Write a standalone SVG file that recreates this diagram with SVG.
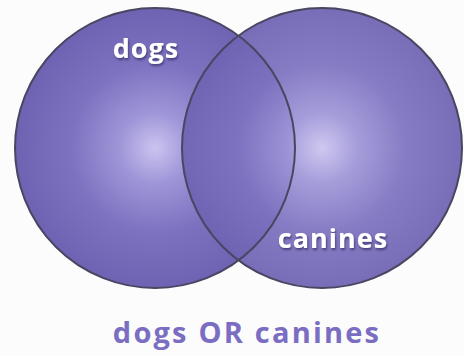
<svg xmlns="http://www.w3.org/2000/svg" width="464" height="356" viewBox="0 0 464 356">
  <defs>
    <radialGradient id="glow" cx="0.5" cy="0.5" r="0.5">
      <stop offset="0" stop-color="#cbc4ef"/>
      <stop offset="0.25" stop-color="#9f96d8"/>
      <stop offset="0.6" stop-color="#7d72c0"/>
      <stop offset="1" stop-color="#6d63b2"/>
    </radialGradient>
    <filter id="shadow" x="-20%" y="-30%" width="140%" height="160%">
      <feDropShadow dx="1" dy="2" stdDeviation="1" flood-color="#2e2660" flood-opacity="0.7"/>
    </filter>
  </defs>
  <style>
    .set { fill: url(#glow); }
    .rim { fill: none; stroke: #4a4560; stroke-width: 2; }
    .lbl { font-family: "Open Sans", "Liberation Sans", sans-serif; font-weight: bold; font-size: 27px; fill: #ffffff; text-anchor: middle; letter-spacing: 1px; filter: url(#shadow); }
    .cap { font-family: "Open Sans", "Liberation Sans", sans-serif; font-weight: bold; font-size: 29px; fill: #7a6dc2; text-anchor: middle; letter-spacing: 2.2px; }
  </style>
  <rect width="464" height="356" fill="#fbfcfb"/>
  <g id="dogs">
    <circle class="set" cx="155" cy="148" r="140"/>
  </g>
  <g id="canines">
    <circle class="set" cx="322" cy="148" r="140" fill-opacity="0.93"/>
  </g>
  <g id="connectors">
    <circle class="rim" cx="155" cy="148" r="140"/>
    <circle class="rim" cx="322" cy="148" r="140"/>
  </g>
  <g id="labels">
    <text class="lbl" x="146" y="58">dogs</text>
    <text class="lbl" x="333" y="248">canines</text>
  </g>
  <g id="caption">
    <text class="cap" x="247" y="343">dogs OR canines</text>
  </g>
</svg>
